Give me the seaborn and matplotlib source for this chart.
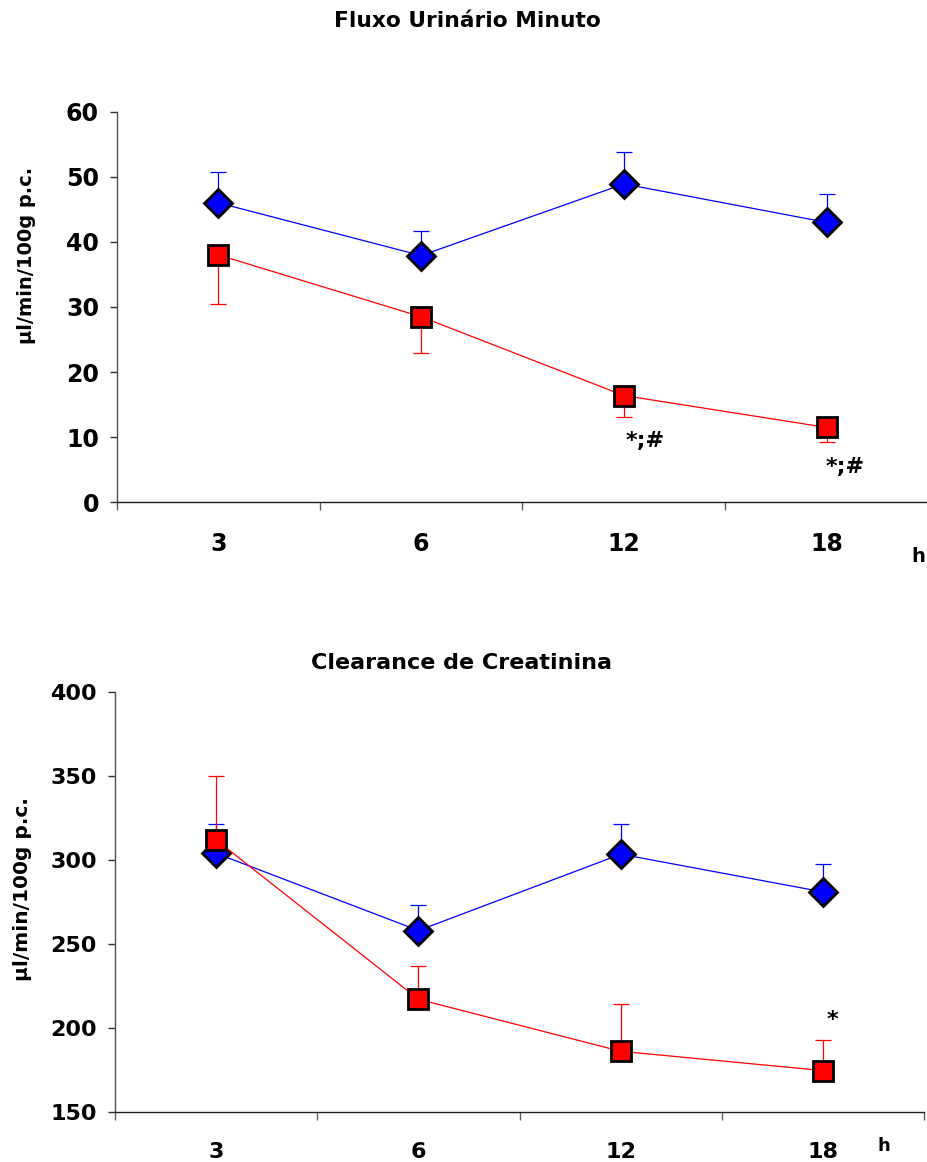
import numpy as np
import pandas as pd
import matplotlib
matplotlib.use("Agg")
import matplotlib.pyplot as plt
import seaborn as sns

# ---------------- data ----------------
hours = ["3", "6", "12", "18"]

flux_blue = [46.0, 37.9, 48.9, 43.0]
flux_blue_err = [4.7, 3.8, 4.9, 4.4]
flux_red = [38.0, 28.5, 16.4, 11.5]
flux_red_err = [7.6, 5.6, 3.3, 2.3]

clear_blue = [304.0, 258.0, 303.5, 281.0]
clear_blue_err = [17.3, 15.3, 17.9, 16.9]
clear_red = [312.0, 217.0, 186.0, 174.5]
clear_red_err = [38.3, 20.1, 28.2, 18.4]

flux_ticks = [0, 10, 20, 30, 40, 50, 60]
clear_ticks = [150, 200, 250, 300, 350, 400]

BLUE = "#0000FF"
RED = "#FF0000"

sns.set_theme(style="white")
plt.rcParams["font.family"] = ["DejaVu Sans"]
plt.rcParams["font.weight"] = "bold"
plt.rcParams["text.color"] = "black"
plt.rcParams["axes.labelcolor"] = "black"
plt.rcParams["xtick.color"] = "black"
plt.rcParams["ytick.color"] = "black"

W, H = 928, 1162
fig = plt.figure(figsize=(W / 100, H / 100), dpi=100)


def px_axes(l, t, r, b):
    return fig.add_axes([l / W, 1 - b / H, (r - l) / W, (b - t) / H])


def panel(ax, blue, blue_err, red, red_err, red_down, ylim, yticks, fs):
    pos = np.arange(len(hours))
    zeros = np.zeros(len(hours))
    df = pd.DataFrame({
        "pos": np.concatenate([pos, pos]),
        "val": list(blue) + list(red),
        "grupo": ["azul"] * len(hours) + ["vermelho"] * len(hours),
    })
    # one-sided error bars
    ax.errorbar(pos, blue, yerr=[zeros, blue_err], fmt="none", ecolor=BLUE,
                elinewidth=0.9, capsize=5.5, capthick=0.9, zorder=1)
    ryerr = [red_err, zeros] if red_down else [zeros, red_err]
    ax.errorbar(pos, red, yerr=ryerr, fmt="none", ecolor=RED,
                elinewidth=0.9, capsize=5.5, capthick=0.9, zorder=1)

    sns.lineplot(data=df[df["grupo"] == "azul"], x="pos", y="val", color=BLUE,
                 marker="D", markersize=14.3, markeredgecolor="black",
                 markeredgewidth=2.0, linewidth=0.9, errorbar=None, ax=ax,
                 zorder=3)
    sns.lineplot(data=df[df["grupo"] == "vermelho"], x="pos", y="val", color=RED,
                 marker="s", markersize=14.5, markeredgecolor="black",
                 markeredgewidth=2.0, linewidth=0.9, errorbar=None, ax=ax,
                 zorder=3)

    ax.set_xlim(-0.5, len(hours) - 0.5)
    ax.set_ylim(*ylim)
    ax.set_yticks(yticks)
    ax.set_yticklabels([str(t) for t in yticks], fontsize=fs, fontweight="bold")
    ax.set_xticks(np.arange(len(hours) + 1) - 0.5)
    ax.set_xticklabels([])
    ax.set_xticks(pos, minor=True)
    ax.set_xticklabels(hours, minor=True, fontsize=fs, fontweight="bold")
    ax.tick_params(axis="x", which="major", direction="out", length=6,
                   width=1.0, color="#606060", bottom=True)
    ax.tick_params(axis="x", which="minor", length=0, pad=21.5, bottom=True)
    ax.tick_params(axis="y", which="major", direction="out", length=5,
                   width=1.0, color="#303030", pad=8, left=True)
    ax.set_xlabel("")
    ax.set_ylabel("")
    sns.despine(ax=ax)
    ax.spines["left"].set_color("#505050")
    ax.spines["bottom"].set_color("#202020")
    ax.spines["left"].set_linewidth(1.0)
    ax.spines["bottom"].set_linewidth(1.0)
    ax.grid(False)


# ---------------- top panel ----------------
ax1 = px_axes(117, 111.7, 928, 502.3)
panel(ax1, flux_blue, flux_blue_err, flux_red, flux_red_err, True,
      (0, 60), flux_ticks, 17)
ax1.annotate("*;#", xy=(2, flux_red[2] - flux_red_err[2]), xytext=(15, -17),
             textcoords="offset points", ha="center", va="center",
             fontsize=16, fontweight="bold")
ax1.annotate("*;#", xy=(3, flux_red[3] - flux_red_err[3]), xytext=(13, -17.5),
             textcoords="offset points", ha="center", va="center",
             fontsize=16, fontweight="bold")
fig.text(467.5 / W, 1 - 21 / H, "Fluxo Urinário Minuto", ha="center",
         va="center", fontsize=15.7, fontweight="bold")
fig.text(27 / W, 1 - 255 / H, "µl/min/100g p.c.", rotation=90, ha="center",
         va="center", fontsize=14, fontweight="bold")
fig.text(918 / W, 1 - 557 / H, "h", ha="center", va="center", fontsize=14,
         fontweight="bold")

# ---------------- bottom panel ----------------
ax2 = px_axes(115, 692.3, 924.3, 1111.7)
panel(ax2, clear_blue, clear_blue_err, clear_red, clear_red_err, False,
      (150, 400), clear_ticks, 16)
ax2.annotate("*", xy=(3, clear_red[3] + clear_red_err[3]), xytext=(7, 14.5),
             textcoords="offset points", ha="center", va="center",
             fontsize=16, fontweight="bold")
fig.text(461.7 / W, 1 - 663 / H, "Clearance de Creatinina", ha="center",
         va="center", fontsize=16, fontweight="bold")
fig.text(23 / W, 1 - 889 / H, "µl/min/100g p.c.", rotation=90, ha="center",
         va="center", fontsize=14.5, fontweight="bold")
fig.text(884 / W, 1 - 1146 / H, "h", ha="center", va="center", fontsize=13,
         fontweight="bold")

fig.savefig("out.png", dpi=100)
